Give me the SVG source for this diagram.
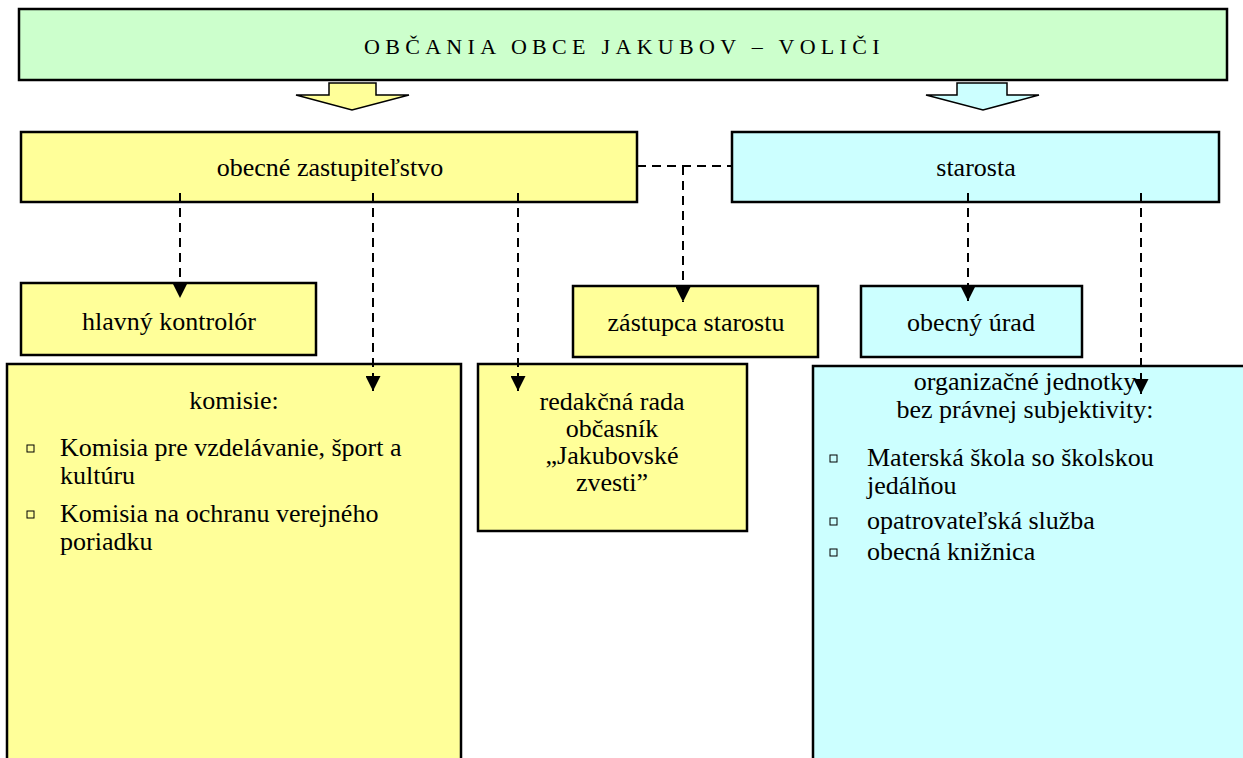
<svg xmlns="http://www.w3.org/2000/svg" width="1243" height="758" viewBox="0 0 1243 758">
<style>
.box{stroke:#000;stroke-width:2.5}
.g{fill:#CCFFCC}.y{fill:#FFFF99}.c{fill:#CCFFFF}
.t{font-family:"Liberation Serif","Times New Roman",serif;font-size:26px;fill:#000}
.m{text-anchor:middle}
.dash{fill:none;stroke:#000;stroke-width:2;stroke-dasharray:9 6}
.bul{fill:none;stroke:#000;stroke-width:1}
</style>
<defs>
<marker id="ah" markerUnits="userSpaceOnUse" markerWidth="15" markerHeight="15" refX="15" refY="7.5" orient="auto">
<path d="M0,0 L15,7.5 L0,15 z" fill="#000"/>
</marker>
</defs>
<rect width="1243" height="758" fill="#fff"/>

<g id="voters">
<rect class="box g" x="19" y="9" width="1208" height="71"/>
<text class="t" x="364" y="54" style="font-size:22px;letter-spacing:5.3px">OBČANIA OBCE JAKUBOV – VOLIČI</text>
</g>

<g id="arrow-left">
<polygon class="y" stroke="#000" stroke-width="1.5" points="329,83 376,83 376,95 409,95 352,110 296,95 329,95"/>
</g>
<g id="arrow-right">
<polygon class="c" stroke="#000" stroke-width="1.5" points="957,83 1007,83 1007,95 1039,95 983,110 926,95 957,95"/>
</g>

<g id="zastupitelstvo">
<rect class="box y" x="21" y="132" width="616" height="70"/>
<text class="t m" x="330" y="176">obecné zastupiteľstvo</text>
</g>

<g id="starosta">
<rect class="box c" x="732" y="132" width="487" height="70"/>
<text class="t m" x="976" y="176">starosta</text>
</g>

<g id="kontrolor">
<rect class="box y" x="21" y="283" width="295" height="72"/>
<text class="t m" x="169" y="330">hlavný kontrolór</text>
</g>

<g id="zastupca">
<rect class="box y" x="573" y="286" width="245" height="71"/>
<text class="t m" x="696" y="331">zástupca starostu</text>
</g>

<g id="urad">
<rect class="box c" x="861" y="286" width="221" height="71"/>
<text class="t m" x="971" y="331">obecný úrad</text>
</g>

<g id="komisie">
<rect class="box y" x="7" y="364" width="454" height="400"/>
<text class="t m" x="234" y="409">komisie:</text>
<rect class="bul" x="27" y="445" width="7" height="7"/>
<text class="t" x="60" y="456">Komisia pre vzdelávanie, šport a</text>
<text class="t" x="60" y="484">kultúru</text>
<rect class="bul" x="27" y="511" width="7" height="7"/>
<text class="t" x="60" y="522">Komisia na ochranu verejného</text>
<text class="t" x="60" y="550">poriadku</text>
</g>

<g id="redakcna">
<rect class="box y" x="478" y="364" width="269" height="167"/>
<text class="t m" x="612" y="410">redakčná rada</text>
<text class="t m" x="612" y="437">občasník</text>
<text class="t m" x="612" y="464">„Jakubovské</text>
<text class="t m" x="612" y="491">zvesti”</text>
</g>

<g id="jednotky">
<rect class="box c" x="813" y="366" width="440" height="400"/>
<text class="t m" x="1025" y="390">organizačné jednotky</text>
<text class="t m" x="1025" y="418">bez právnej subjektivity:</text>
<rect class="bul" x="830" y="455" width="7" height="7"/>
<text class="t" x="867" y="466">Materská škola so školskou</text>
<text class="t" x="867" y="494">jedálňou</text>
<rect class="bul" x="830" y="518" width="7" height="7"/>
<text class="t" x="867" y="529">opatrovateľská služba</text>
<rect class="bul" x="830" y="549" width="7" height="7"/>
<text class="t" x="867" y="560">obecná knižnica</text>
</g>

<g id="connectors">
<line class="dash" x1="637" y1="166" x2="732" y2="166"/>
<line class="dash" x1="683" y1="166" x2="683" y2="302" marker-end="url(#ah)"/>
<line class="dash" x1="180" y1="193" x2="180" y2="298" marker-end="url(#ah)"/>
<line class="dash" x1="373" y1="193" x2="373" y2="391" marker-end="url(#ah)"/>
<line class="dash" x1="518" y1="193" x2="518" y2="391" marker-end="url(#ah)"/>
<line class="dash" x1="968" y1="193" x2="968" y2="301" marker-end="url(#ah)"/>
<line class="dash" x1="1141" y1="193" x2="1141" y2="394" marker-end="url(#ah)"/>
</g>
</svg>
